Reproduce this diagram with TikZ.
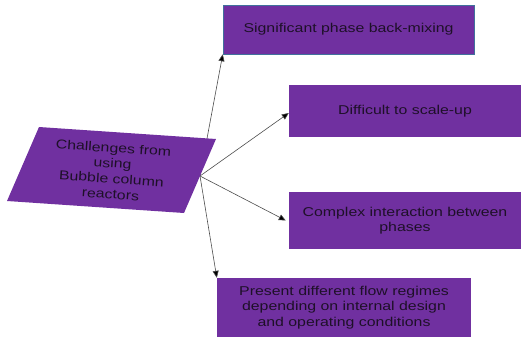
\documentclass[tikz,border=0pt]{standalone}
\usepackage{fontspec}
\setmainfont{Liberation Sans}[FakeStretch=1.24]
\usetikzlibrary{arrows.meta}
\definecolor{boxpurple}{HTML}{7030A0}
\definecolor{boxtext}{HTML}{1E1028}
\definecolor{boxedge}{HTML}{41719C}
\tikzset{
 box/.style={fill=boxpurple,text=boxtext,align=center,inner sep=0pt,
  font=\fontsize{12.8}{15.4}\selectfont},
 link/.style={draw=black!70,line width=0.6pt,-{Triangle[length=7pt,width=6pt,fill=black]}}
}

\begin{document}
\begin{tikzpicture}[x=1pt,y=-1pt]
 \useasboundingbox (0,0) rectangle (521,337);
 \node[box,draw=boxedge,line width=0.5pt,minimum width=251pt,minimum height=49pt] (b1) at (348.5,29.5) {Significant phase back-mixing};
 \node[box,minimum width=232pt,minimum height=52pt] (b2) at (405,111) {Difficult to scale-up};
 \node[box,minimum width=232pt,minimum height=57pt] (b3) at (405,220.5) {Complex interaction between\\phases};
 \node[box,minimum width=254pt,minimum height=59pt] (b4) at (344,307.5) {Present different flow regimes\\depending on internal design\\and operating conditions};
 \coordinate (hub) at (200,176);
 \draw[link] (hub) -- (b1.south west);
 \draw[link] (hub) -- ([yshift=-2pt]b2.west);
 \draw[link] (hub) -- ([xshift=-3pt]b3.west);
 \draw[link] (hub) -- (b4.north west);
 \fill[boxpurple] (39,127) -- (216,139) -- (184,213) -- (7,201) -- cycle;
 \node[box,fill=none,rotate=-3.9] (ch) at (112,171) {Challenges from\\using\\Bubble column\\reactors};
\end{tikzpicture}
\end{document}
